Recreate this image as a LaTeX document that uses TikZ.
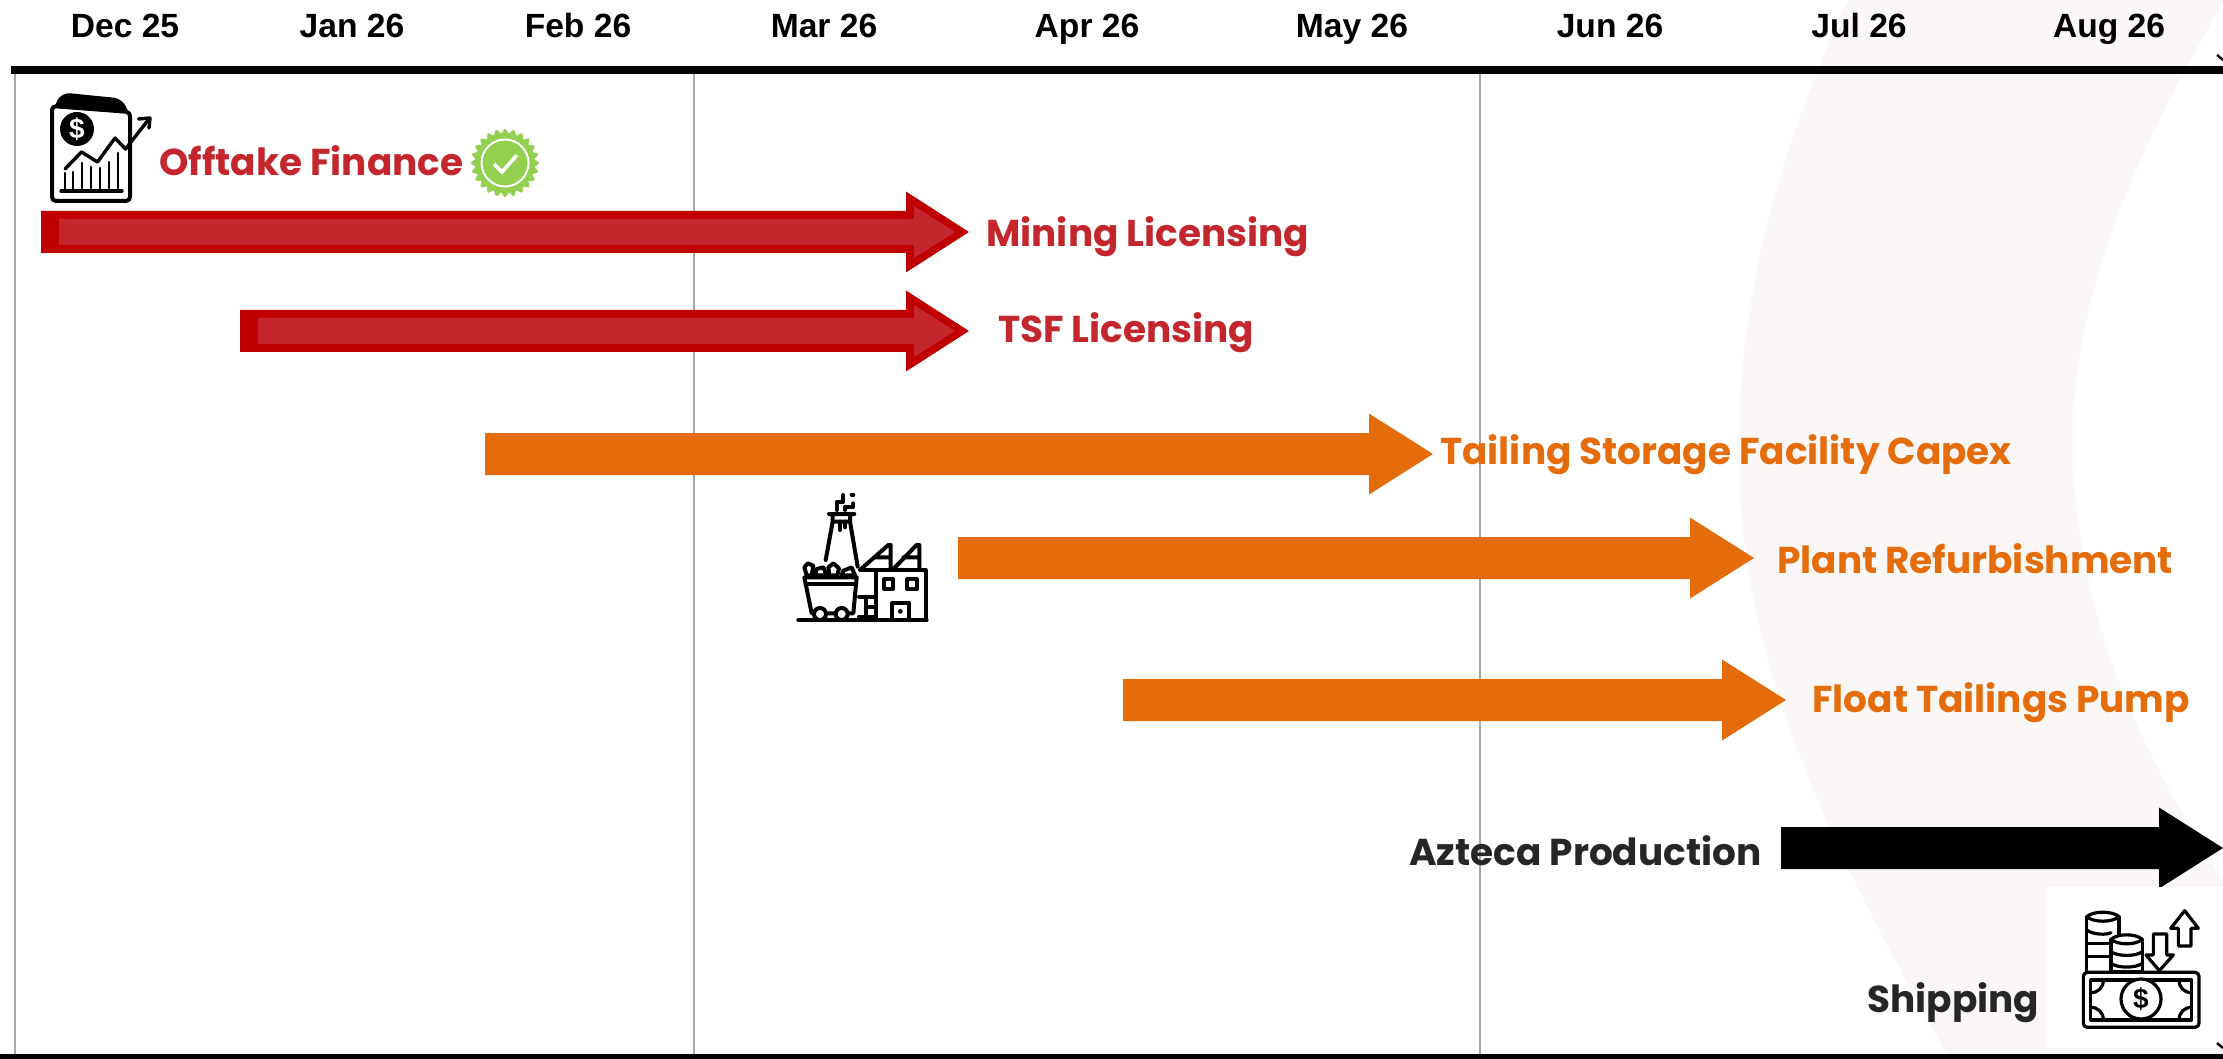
\documentclass[tikz,border=0pt]{standalone}
\usepackage{fontspec}
\setmainfont{Liberation Sans}
\newfontfamily\popfont{Poppins}
\definecolor{bandc}{HTML}{FBF7F6}
\definecolor{redout}{HTML}{C00000}
\definecolor{redin}{HTML}{C3262C}
\definecolor{orangec}{HTML}{E46C0A}
\definecolor{darkc}{HTML}{262626}
\definecolor{gridc}{HTML}{A6A6A6}
\definecolor{badgec}{HTML}{92D050}
\tikzset{
  monthlabel/.style={anchor=base,font=\fontsize{16.8}{17}\selectfont\bfseries,text=black,inner sep=0pt},
  tasklabel/.style={anchor=base west,font=\popfont\fontsize{18.7}{19}\selectfont\bfseries,inner sep=0pt},
  icon/.style={line width=2pt,draw=black,line join=round,line cap=round},
  thinicon/.style={line width=1.6pt,draw=black,line join=round,line cap=round},
  gridline/.style={draw=gridc,line width=1pt}
}
% start x, neck x, tip x, centre y, half head, colour
\newcommand{\barrow}[6]{\fill[#6] (#1,#4-21) -- (#2,#4-21) -- (#2,#4-#5) -- (#3,#4) -- (#2,#4+#5) -- (#2,#4+21) -- (#1,#4+21) -- cycle;}
\newcommand{\redarrow}[3]{%
  \barrow{#1}{906}{969}{#2}{40.5}{redout}
  \fill[redin] (#3,#2-13) -- (914,#2-13) -- (914,#2-26) -- (955,#2) -- (914,#2+26) -- (914,#2+13) -- (#3,#2+13) -- cycle;}
\begin{document}
\begin{tikzpicture}[x=0.5pt,y=-0.5pt]
\useasboundingbox (0,0) rectangle (2223,1059);
\fill[white] (0,0) rectangle (2223,1059);
% background band
\fill[bandc] (1848,0) .. controls (1770,170) and (1739,310) .. (1739,450)
  .. controls (1739,620) and (1790,780) .. (1950,1059)
  -- (2223,1059) -- (2223,880)
  .. controls (2125,730) and (2073,590) .. (2073,440)
  .. controls (2073,300) and (2130,160) .. (2223,3) -- (2223,0) -- cycle;
% grid
\draw[gridline] (15,70) -- (15,1056);
\draw[gridline] (694,70) -- (694,1056);
\draw[gridline] (1480,70) -- (1480,1056);
% month labels
\node[monthlabel] (dec) at (125,38) {Dec 25};
\node[monthlabel] (jan) at (352,38) {Jan 26};
\node[monthlabel] (feb) at (578,38) {Feb 26};
\node[monthlabel] (mar) at (824,38) {Mar 26};
\node[monthlabel] (apr) at (1087,38) {Apr 26};
\node[monthlabel] (may) at (1352,38) {May 26};
\node[monthlabel] (jun) at (1610,38) {Jun 26};
\node[monthlabel] (jul) at (1859,38) {Jul 26};
\node[monthlabel] (aug) at (2109,38) {Aug 26};
% arrows
\redarrow{41}{232}{59}
\redarrow{240}{331}{258}
\barrow{485}{1369}{1433}{454}{40.5}{orangec}
\barrow{958}{1690}{1754}{558}{40.5}{orangec}
\barrow{1123}{1722}{1786}{700}{40.5}{orangec}
\barrow{1781}{2159}{2223}{848}{40.5}{black}
% task labels
\node[tasklabel,text=redin] (offtake) at (159,176) {Offtake Finance};
\node[tasklabel,text=redin] (mining) at (986,247) {Mining Licensing};
\node[tasklabel,text=redin] (tsf) at (998,343) {TSF Licensing};
\node[tasklabel,text=orangec] (tailing) at (1440,464) {Tailing Storage Facility Capex};
\node[tasklabel,text=orangec] (plant) at (1777,573) {Plant Refurbishment};
\node[tasklabel,text=orangec] (float) at (1812,712) {Float Tailings Pump};
\node[tasklabel,text=darkc] (azteca) at (1409,865) {Azteca Production};
\node[tasklabel,text=darkc] (shipping) at (1867,1012) {Shipping};
% rules
\fill[black] (11,66) rectangle (2223,74);
\fill[black] (0,1054) rectangle (2223,1059);
% badge
\fill[badgec] plot[domain=0:360,samples=193] ({505+(32+2.2*cos(24*\x))*cos(\x)},{163+(32+2.2*cos(24*\x))*sin(\x)}) -- cycle;
\draw[white,line width=1pt] (505,163) circle (23.5);
\draw[white,line width=1.8pt] (494,164) -- (502,172) -- (517,155);
% document icon
\draw[icon,fill=white,rounded corners=2pt] (52,106) -- (130,112) -- (130,201) -- (52,201) -- cycle;
\fill[black,rounded corners=1.5pt] (54,108) -- (59,97) -- (67,93) -- (117,98) -- (124,103) -- (129,113) -- cycle;
\fill[black] (77,129) circle (17);
\node[inner sep=0pt,text=white,font=\fontsize{14}{14}\selectfont\bfseries] (docdollar) at (77,129) {\$};
\draw[icon,line width=1.7pt] (65,169) -- (81.5,152) -- (97.5,162) -- (115,138) -- (125.5,149) -- (149,119);
\draw[icon,line width=1.7pt] (138.5,119) -- (150,118) -- (149,128);
\draw[icon,line width=1.6pt] (61,191) -- (122,191);
\draw[icon,line width=1.3pt] (65,191) -- (65,173) (73,191) -- (73,172) (82,191) -- (82,163) (91,191) -- (91,167) (100,191) -- (100,168) (109,191) -- (109,162) (118,191) -- (118,153);
% factory icon
\begin{scope}[shift={(760,470)},x=0.16667pt,y=-0.16667pt]
  \draw[icon] (115,450) -- (500,450);
  \draw[icon] (300,300) -- (497,300) -- (497,450);
  \draw[icon] (347,300) -- (347,450);
  \draw[icon] (303,297) -- (385,225) -- (392,225) -- (392,297) (345,262) -- (392,262);
  \draw[icon] (400,297) -- (470,225) -- (478,225) -- (478,297) (430,262) -- (478,262);
  \draw[icon] (372,328) rectangle (400,357);
  \draw[icon] (442,328) rectangle (470,357);
  \draw[icon] (397,450) -- (397,398) -- (447,398) -- (447,450);
  \fill (421,424) circle (7);
  \draw[icon] (297,380) -- (345,380) (318,380) -- (318,440) (318,410) -- (345,410) (297,440) -- (345,440);
  \draw[icon] (207,132) -- (283,132) (218,132) -- (218,155) -- (270,155) -- (270,132) (218,155) -- (197,270) (270,155) -- (293,290);
  \draw[icon] (240,155) -- (240,180) (255,155) -- (255,172);
  \draw[icon] (230,120) -- (230,95) -- (250,95) -- (250,75) (275,75) -- (280,75) (255,120) -- (255,110) -- (280,110) -- (280,100);
  \draw[icon,fill=white] (133,292) -- (143,280) -- (160,287) -- (155,316) -- (140,316) -- cycle;
  \draw[icon,fill=white] (165,316) -- (170,297) -- (190,292) -- (200,316) -- cycle;
  \draw[icon,fill=white] (205,292) -- (220,280) -- (237,295) -- (232,316) -- (208,316) -- cycle;
  \draw[icon,fill=white] (245,316) -- (250,302) -- (275,292) -- (285,316) -- cycle;
  \draw[icon,fill=white] (133,322) -- (290,322) -- (280,430) -- (155,430) -- cycle;
  \draw[icon] (137,342) -- (288,342);
  \draw[icon,fill=white] (180,432) circle (18);
  \draw[icon,fill=white] (245,432) circle (18);
\end{scope}
% white panel, ticks and money icon
\fill[white] (2047,887) rectangle (2223,1048);
\draw[line width=1.2pt] (2217,55) -- (2223,60);
\draw[line width=1.2pt] (2217,1043) -- (2223,1048);
\begin{scope}[shift={(1820,780)},x=0.16667pt,y=-0.16667pt]
  % coins
  \draw[thinicon] (800,410) -- (800,575) (897,410) -- (897,470);
  \draw[thinicon] (800,410) .. controls (820,392) and (877,392) .. (897,410) .. controls (877,428) and (820,428) .. (800,410);
  \draw[thinicon] (800,450) .. controls (820,465) and (860,465) .. (873,458);
  \draw[thinicon] (800,490) -- (873,490) (800,530) -- (873,530);
  \draw[thinicon,fill=white] (873,575) -- (873,478) -- (967,478) -- (967,575) -- cycle;
  \draw[thinicon,fill=white] (873,478) .. controls (893,460) and (947,460) .. (967,478) .. controls (947,496) and (893,496) .. (873,478);
  \draw[thinicon] (873,515) .. controls (893,530) and (947,530) .. (967,515);
  \draw[thinicon] (873,550) .. controls (893,565) and (947,565) .. (967,550);
  % arrows
  \draw[thinicon] (1000,462) -- (1040,462) -- (1040,525) -- (1060,525) -- (1018,572) -- (978,525) -- (1000,525) -- cycle;
  \draw[thinicon] (1075,498) -- (1113,498) -- (1113,445) -- (1135,445) -- (1094,392) -- (1052,445) -- (1075,445) -- cycle;
  % banknote
  \draw[thinicon,rounded corners=2pt,fill=white] (790,577) rectangle (1137,742);
  \draw[thinicon] (812,600) rectangle (1115,720);
  \draw[thinicon,fill=white] (963,657) circle (60);
  \draw[thinicon] (812,638) .. controls (835,638) and (850,622) .. (850,600);
  \draw[thinicon] (812,682) .. controls (835,682) and (850,698) .. (850,720);
  \draw[thinicon] (1115,638) .. controls (1092,638) and (1077,622) .. (1077,600);
  \draw[thinicon] (1115,682) .. controls (1092,682) and (1077,698) .. (1077,720);
  \node[inner sep=0pt,font=\fontsize{14}{14}\selectfont\bfseries] (cashdollar) at (963,657) {\$};
\end{scope}
\end{tikzpicture}
\end{document}
